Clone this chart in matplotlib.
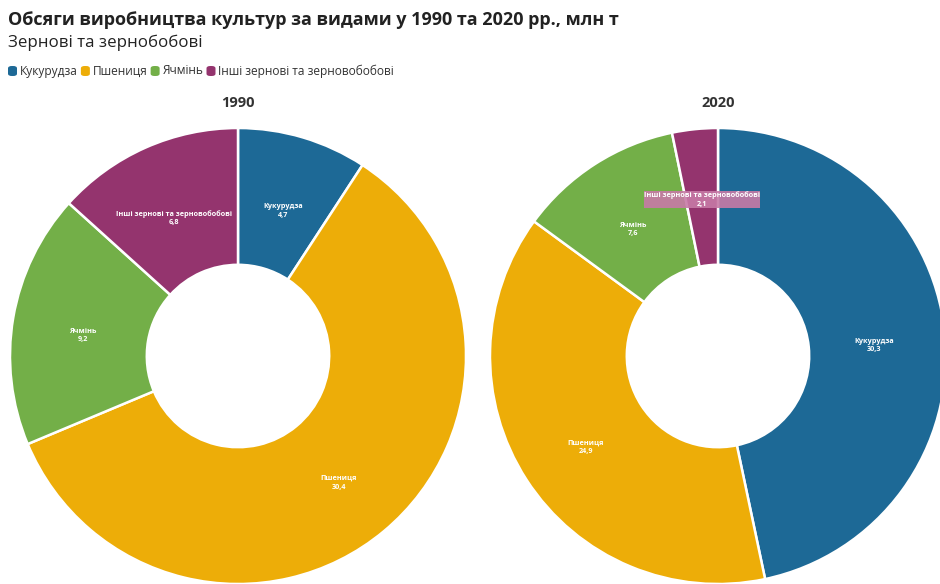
import matplotlib
matplotlib.use("Agg")
import math
import matplotlib.pyplot as plt
from matplotlib.patches import FancyBboxPatch

categories = ["Кукурудза", "Пшениця", "Ячмінь", "Інші зернові та зерновобобові"]
legend_labels = ["Кукурудза", "Пшениця", "Ячмінь", "Інші зернові та зерновобобові"]
years = ["1990", "2020"]
values_1990 = [4.7, 30.4, 9.2, 6.8]
values_2020 = [30.3, 24.9, 7.6, 2.1]
colors = ["#1D6996", "#EDAD08", "#73AF48", "#94346E"]

title = "Обсяги виробництва культур за видами у 1990 та 2020 рр., млн т"
subtitle = "Зернові та зернобобові"

W, H = 940, 584
fig = plt.figure(figsize=(W / 100, H / 100), dpi=100)
fig.patch.set_facecolor("white")
FONT = ["Open Sans", "DejaVu Sans"]


def fx(px):
    return px / W


def fy(py):
    return 1 - py / H


fig.text(fx(8), fy(20), title, fontsize=13.0, fontweight="bold", family=FONT,
         color="#222222", va="center", ha="left")
fig.text(fx(8), fy(43), subtitle, fontsize=12.2, family=FONT,
         color="#222222", va="center", ha="left")

# legend
fig.canvas.draw()
renderer = fig.canvas.get_renderer()
x = 8
ly = 71
for lab, col in zip(legend_labels, colors):
    box = FancyBboxPatch((fx(x), fy(ly + 5)), fx(9), 10 / H,
                         boxstyle="round,pad=0,rounding_size=0.004",
                         transform=fig.transFigure, facecolor=col,
                         edgecolor="none")
    fig.add_artist(box)
    t = fig.text(fx(x + 12), fy(ly), lab, fontsize=8.6, family=FONT,
                 color="#333333", va="center", ha="left")
    bb = t.get_window_extent(renderer)
    x = x + 12 + bb.width + 3

R = 228
centers = [(238, 356), (718, 356)]
inner = 0.4
for (cx, cy), yr, vals in zip(centers, years, [values_1990, values_2020]):
    ax = fig.add_axes([fx(cx - R), fy(cy + R), 2 * R / W, 2 * R / H])
    wedges, _ = ax.pie(vals, colors=colors, startangle=90, counterclock=False,
                       radius=1, wedgeprops=dict(width=1 - inner,
                                                 edgecolor="white",
                                                 linewidth=1.8))
    ax.set_xlim(-1, 1)
    ax.set_ylim(-1, 1)
    ax.set_aspect("auto")
    ax.axis("off")
    total = sum(vals)
    ang = 90
    for v, lab, col in zip(vals, categories, colors):
        sweep = v / total * 360
        mid = ang - sweep / 2
        ang -= sweep
        r = 0.69
        tx = r * math.cos(math.radians(mid))
        ty = r * math.sin(math.radians(mid))
        kw = {}
        if v / total < 0.05:
            kw["bbox"] = dict(boxstyle="square,pad=0.05", facecolor="#c77aa6",
                              edgecolor="none", alpha=0.9)
        else:
            ty -= 0.026
        ax.text(tx, ty, f"{lab}\n{str(v).replace('.', ',')}", ha="center",
                va="center", fontsize=5.2, fontweight="bold", color="white",
                family=FONT, linespacing=1.3, **kw)
    fig.text(fx(cx), fy(103), yr, fontsize=10.5, fontweight="bold", family=FONT,
             color="#333333", ha="center", va="center")

fig.savefig("out.png", dpi=100, facecolor="white")
